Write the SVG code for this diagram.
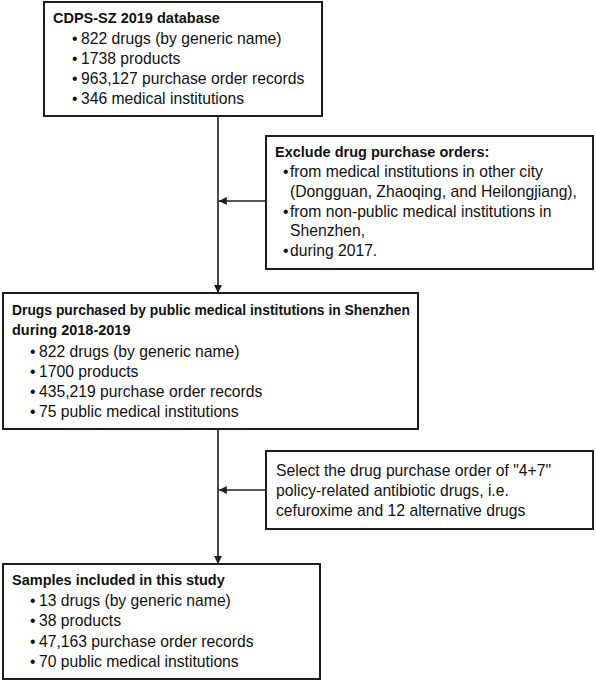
<svg xmlns="http://www.w3.org/2000/svg" width="596" height="682" viewBox="0 0 596 682">
<defs>
<style>
.box{fill:#fff;stroke:#1e1e1e;stroke-width:2}
.t{font-family:"Liberation Sans",Arial,sans-serif;font-size:15.7px;fill:#111}
.b{font-family:"Liberation Sans",Arial,sans-serif;font-size:14.5px;font-weight:bold;fill:#111}
.ln{stroke:#1e1e1e;stroke-width:1.6;fill:none}
</style>
<marker id="ah" viewBox="0 0 10 10" refX="10" refY="5" markerWidth="8" markerHeight="8" markerUnits="userSpaceOnUse" orient="auto">
<path d="M0,0 L10,5 L0,10 Z" fill="#1e1e1e"/>
</marker>
</defs>
<rect width="596" height="682" fill="#fff"/>
<g id="connectors">
<line class="ln" x1="218" y1="116" x2="218" y2="293" marker-end="url(#ah)"/>
<line class="ln" x1="266" y1="201" x2="218.8" y2="201" marker-end="url(#ah)"/>
<line class="ln" x1="218" y1="429" x2="218" y2="564" marker-end="url(#ah)"/>
<line class="ln" x1="266" y1="490" x2="218.8" y2="490" marker-end="url(#ah)"/>
</g>
<g id="node1">
<rect class="box" x="44" y="2" width="278" height="114"/>
<text class="b" x="53" y="23">CDPS-SZ 2019 database</text>
<text class="t" x="72" y="43.5">•</text><text class="t" x="81" y="43.5">822 drugs (by generic name)</text>
<text class="t" x="72" y="64">•</text><text class="t" x="81" y="64">1738 products</text>
<text class="t" x="72" y="84">•</text><text class="t" x="81" y="84">963,127 purchase order records</text>
<text class="t" x="72" y="104">•</text><text class="t" x="81" y="104">346 medical institutions</text>
</g>
<g id="node2">
<rect class="box" x="266" y="136" width="327" height="133"/>
<text class="b" x="275" y="157">Exclude drug purchase orders:</text>
<text class="t" x="283" y="177">•</text><text class="t" x="290" y="177">from medical institutions in other city</text>
<text class="t" x="290" y="197">(Dongguan, Zhaoqing, and Heilongjiang),</text>
<text class="t" x="283" y="217">•</text><text class="t" x="290" y="217">from non-public medical institutions in</text>
<text class="t" x="290" y="236">Shenzhen,</text>
<text class="t" x="283" y="256">•</text><text class="t" x="290" y="256">during 2017.</text>
</g>
<g id="node3">
<rect class="box" x="3" y="293" width="415" height="136"/>
<text class="b" x="12" y="315" textLength="398" lengthAdjust="spacingAndGlyphs">Drugs purchased by public medical institutions in Shenzhen</text>
<text class="b" x="12" y="335">during 2018-2019</text>
<text class="t" x="30" y="357">•</text><text class="t" x="39" y="357">822 drugs (by generic name)</text>
<text class="t" x="30" y="377">•</text><text class="t" x="39" y="377">1700 products</text>
<text class="t" x="30" y="397">•</text><text class="t" x="39" y="397">435,219 purchase order records</text>
<text class="t" x="30" y="417">•</text><text class="t" x="39" y="417">75 public medical institutions</text>
</g>
<g id="node4">
<rect class="box" x="266" y="451" width="327" height="78"/>
<text class="t" x="276" y="476">Select the drug purchase order of "4+7"</text>
<text class="t" x="276" y="496">policy-related antibiotic drugs, i.e.</text>
<text class="t" x="276" y="516">cefuroxime and 12 alternative drugs</text>
</g>
<g id="node5">
<rect class="box" x="3" y="564" width="317" height="115"/>
<text class="b" x="12" y="585">Samples included in this study</text>
<text class="t" x="30" y="606">•</text><text class="t" x="39" y="606">13 drugs (by generic name)</text>
<text class="t" x="30" y="626">•</text><text class="t" x="39" y="626">38 products</text>
<text class="t" x="30" y="647">•</text><text class="t" x="39" y="647">47,163 purchase order records</text>
<text class="t" x="30" y="667">•</text><text class="t" x="39" y="667">70 public medical institutions</text>
</g>
</svg>
